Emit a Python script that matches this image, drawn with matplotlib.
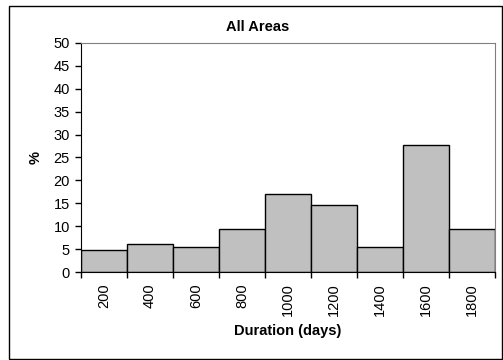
import matplotlib.pyplot as plt
import matplotlib.patches as patches
import numpy as np

plt.rcParams['font.family'] = ['Liberation Sans', 'DejaVu Sans']

# duration classes (days) and share in percent
durations = ['200', '400', '600', '800', '1000', '1200', '1400', '1600', '1800']
percent = [4.7, 6.2, 5.5, 9.4, 17.0, 14.7, 5.5, 27.8, 9.4]
y_ticks = [0, 5, 10, 15, 20, 25, 30, 35, 40, 45, 50]

fig = plt.figure(figsize=(5.03, 3.60), dpi=100)
ax = fig.add_axes([0.161, 0.2444, 0.823, 0.6362])

x = np.arange(len(durations))
ax.bar(x, percent, width=1.0, color='#C0C0C0', edgecolor='black', linewidth=1.0)

ax.set_xlim(-0.5, len(durations) - 0.5)
ax.set_ylim(0, 50)
ax.set_yticks(y_ticks)

# labels in the middle of each bar, tick marks on the bar edges
ax.set_xticks(x)
ax.set_xticklabels(durations, rotation=90)
ax.tick_params(axis='x', which='major', length=0, pad=8, labelsize=10.5)
ax.set_xticks(np.arange(len(durations) + 1) - 0.5, minor=True)
ax.tick_params(axis='x', which='minor', length=4, width=1, direction='out')
ax.tick_params(axis='y', length=4, width=1, direction='out', pad=4, labelsize=10.5)

for s in ['top', 'right']:
    ax.spines[s].set_color('#808080')
for s in ['left', 'bottom']:
    ax.spines[s].set_color('black')

ax.set_xlabel('Duration (days)', fontsize=10.5, fontweight='bold', labelpad=6)
ax.set_ylabel('%', fontsize=10.5, fontweight='bold', labelpad=8)
fig.text(0.513, 0.925, 'All Areas', fontsize=10.5, fontweight='bold', ha='center', va='center')

# frame around the whole chart
fig.patches.append(patches.Rectangle((8.5 / 503, 1.5 / 360), 493 / 503, 353 / 360,
                                     transform=fig.transFigure, fill=False,
                                     edgecolor='black', linewidth=1.0))

fig.savefig('out.png', dpi=100)
